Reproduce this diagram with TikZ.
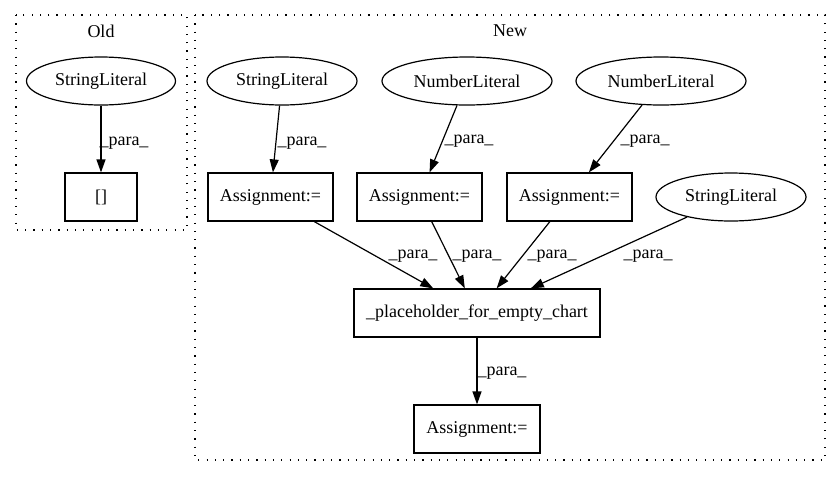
\documentclass[tikz,border=0pt]{standalone}
\usepackage{fontspec}
\setmainfont{Liberation Serif}
\usetikzlibrary{shapes.geometric,arrows.meta}
\begin{document}
\begin{tikzpicture}[x=1pt,y=-1pt,
  every node/.style={font=\fontsize{18}{20}\selectfont},
  ell/.style={draw, ellipse, inner sep=0pt, minimum height=48pt, line width=1.2pt},
  box/.style={draw, rectangle, inner sep=0pt, minimum height=48pt, line width=1.2pt},
  lab/.style={inner sep=0pt},
  clus/.style={draw, line width=1.5pt, dash pattern=on 1.2pt off 7.1pt},
  edge/.style={-{Triangle[length=13pt,width=9pt]}, line width=1.2pt},
]
\useasboundingbox (0,0) rectangle (832,480);

% clusters
\draw[clus] (16,15) rectangle (187,230);
\draw[clus] (195,15) rectangle (825,460);
\node[lab] (tOld) at (101,31) {Old};
\node[lab] (tNew) at (510,31) {New};

% Old
\node[ell, minimum width=149pt] (osl) at (101,81) {StringLiteral};
\node[box, minimum width=72pt] (obr) at (101,197) {[]};
\draw[edge] (osl) -- (obr);
\node[lab] (l0) at (124,143) {\_para\_};

% New
\node[ell, minimum width=150pt] (sl1) at (282,81) {StringLiteral};
\node[ell, minimum width=170pt] (nl1) at (467,81) {NumberLiteral};
\node[ell, minimum width=170pt] (nl2) at (661,81) {NumberLiteral};
\node[box, minimum width=125pt] (a1) at (270.5,197) {Assignment:=};
\node[box, minimum width=125pt] (a2) at (419.5,197) {Assignment:=};
\node[box, minimum width=125pt] (a3) at (569.5,197) {Assignment:=};
\node[ell, minimum width=150pt] (sl2) at (731,197) {StringLiteral};
\node[box, minimum width=246pt] (ph) at (477,313) {\_placeholder\_for\_empty\_chart};
\node[box, minimum width=126pt] (a4) at (477,429) {Assignment:=};

\draw[edge] (sl1) -- (a1);
\draw[edge] (nl1) -- (a2);
\draw[edge] (nl2) -- (a3);
\draw[edge] (a1) -- (ph);
\draw[edge] (a2) -- (ph);
\draw[edge] (a3) -- (ph);
\draw[edge] (sl2) -- (ph);
\draw[edge] (ph) -- (a4);

\node[lab] (l1) at (302,143) {\_para\_};
\node[lab] (l2) at (469,141) {\_para\_};
\node[lab] (l3) at (645,141) {\_para\_};
\node[lab] (l4) at (413,256) {\_para\_};
\node[lab] (l5) at (477,256) {\_para\_};
\node[lab] (l6) at (552,256) {\_para\_};
\node[lab] (l7) at (648,256) {\_para\_};
\node[lab] (l8) at (502,373) {\_para\_};
\end{tikzpicture}
\end{document}
